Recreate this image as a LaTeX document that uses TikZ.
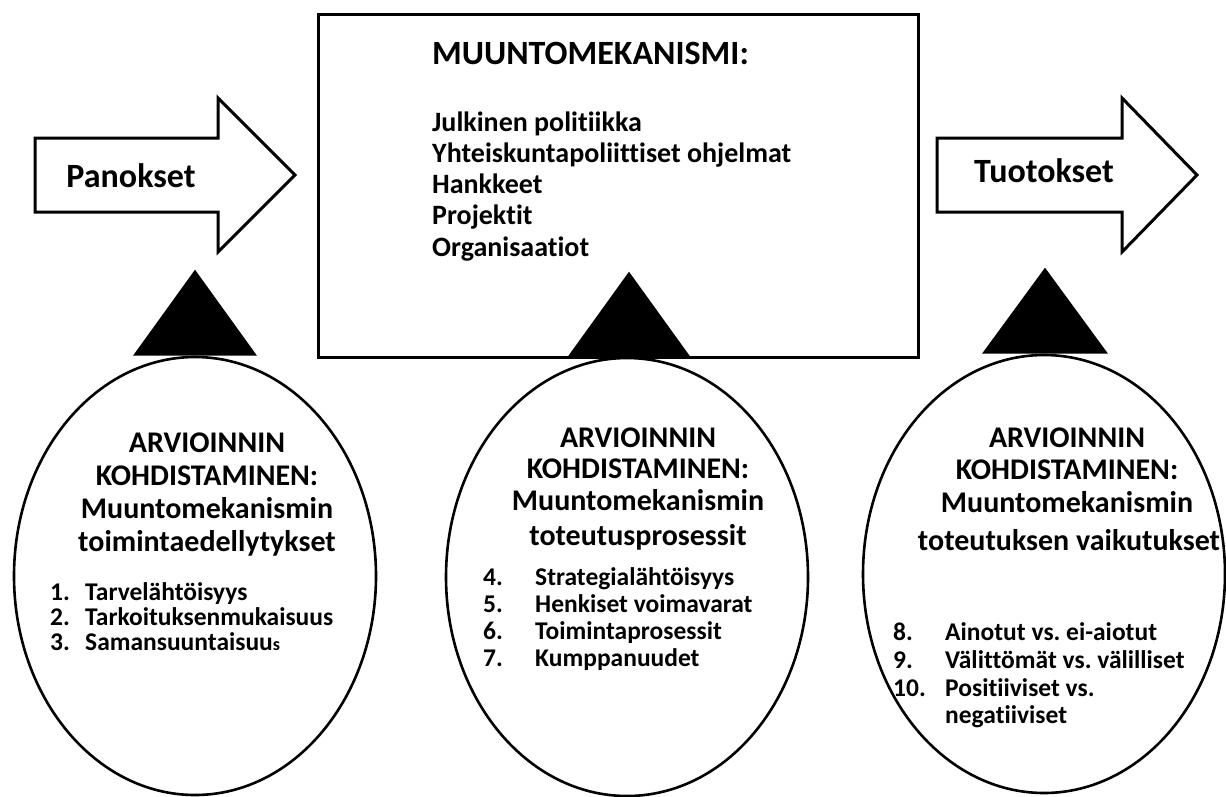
\documentclass[tikz,border=0pt]{standalone}
\usepackage{fontspec}
\setmainfont{Carlito}[Ligatures=NoCommon]
\usetikzlibrary{shapes.geometric}
\frenchspacing
\begin{document}
\begin{tikzpicture}[x=1pt,y=-1pt,
  outline/.style={draw=black,line width=3pt,fill=white,line join=miter},
  oval/.style={ellipse,draw=black,line width=2.6pt,fill=white,inner sep=0pt,
               minimum width=362pt,minimum height=438pt},
  pointer/.style={fill=black},
  flowlabel/.style={font=\bfseries\fontsize{34}{40}\selectfont,inner sep=0pt},
  mechtitle/.style={font=\bfseries\fontsize{34}{40}\selectfont,inner sep=0pt,anchor=base west},
  mechitem/.style={font=\bfseries\fontsize{28}{33}\selectfont,inner sep=0pt,anchor=base west},
  evalhead/.style={font=\bfseries\fontsize{30}{36}\selectfont,inner sep=0pt,anchor=base},
  evalitem/.style={font=\bfseries\fontsize{25.5}{30}\selectfont,inner sep=0pt,anchor=base west}]
\useasboundingbox (0,0) rectangle (1226,796);

% flow arrows
\draw[outline] (35,138) -- (218,138) -- (218,98) -- (295,175) -- (218,252)
  -- (218,212) -- (35,212) -- cycle;
\node[flowlabel] (inputs) at (131,176) {Panokset};
\draw[outline] (937,138) -- (1122,138) -- (1122,98) -- (1197,175) -- (1122,252)
  -- (1122,212) -- (937,212) -- cycle;
\node[flowlabel] (outputs) at (1044,171) {Tuotokset};

% transformation mechanism box
\node[outline,minimum width=600pt,minimum height=343pt,inner sep=0pt] (mech) at (618,185.5) {};
\node[mechtitle] (mechhead) at (432,64) {MUUNTOMEKANISMI:};
\node[mechitem] (m1) at (432,131) {Julkinen politiikka};
\node[mechitem] (m2) at (432,162) {Yhteiskuntapoliittiset ohjelmat};
\node[mechitem] (m3) at (432,193) {Hankkeet};
\node[mechitem] (m4) at (432,224) {Projektit};
\node[mechitem] (m5) at (432,256) {Organisaatiot};

% evaluation focus ovals
\node[oval] (evalA) at (195,576) {};
\node[oval] (evalB) at (627,577) {};
\node[oval] (evalC) at (1044,574) {};

% pointers from the ovals up to the flow
\fill[pointer] (evalA.north) ++(-62,0) -- ++(124,0) -- ++(-62,-86) -- cycle;
\fill[pointer] (evalB.north) ++(-60,1) -- ++(124,0) -- ++(-62,-86) -- cycle;
\fill[pointer] (evalC.north) ++(-62,0) -- ++(126,0) -- ++(-63,-86) -- cycle;

% oval A
\node[evalhead] (a1) at (207,452) {ARVIOINNIN};
\node[evalhead] (a2) at (207,485) {KOHDISTAMINEN:};
\node[evalhead] (a3) at (207,518) {Muuntomekanismin};
\node[evalhead] (a4) at (207,551) {toimintaedellytykset};
\node[evalitem] (a5) at (50,600) {1.};
\node[evalitem] (a5t) at (85,600) {Tarvelähtöisyys};
\node[evalitem] (a6) at (50,625) {2.};
\node[evalitem] (a6t) at (85,625) {Tarkoituksenmukaisuus};
\node[evalitem] (a7) at (50,650) {3.};
\node[evalitem] (a7t) at (85,650) {Samansuuntaisuu{\fontsize{18}{22}\selectfont s}};

% oval B
\node[evalhead] (b1) at (638,447) {ARVIOINNIN};
\node[evalhead] (b2) at (638,478) {KOHDISTAMINEN:};
\node[evalhead] (b3) at (638,510) {Muuntomekanismin};
\node[evalhead] (b4) at (638,545) {toteutusprosessit};
\node[evalitem] (b5) at (483,585) {4.};
\node[evalitem] (b5t) at (535,585) {Strategialähtöisyys};
\node[evalitem] (b6) at (483,612) {5.};
\node[evalitem] (b6t) at (535,612) {Henkiset voimavarat};
\node[evalitem] (b7) at (483,639) {6.};
\node[evalitem] (b7t) at (535,639) {Toimintaprosessit};
\node[evalitem] (b8) at (483,666) {7.};
\node[evalitem] (b8t) at (535,666) {Kumppanuudet};

% oval C
\node[evalhead] (c1) at (1067,447) {ARVIOINNIN};
\node[evalhead] (c2) at (1067,479) {KOHDISTAMINEN:};
\node[evalhead] (c3) at (1067,512) {Muuntomekanismin};
\node[evalhead] (c4) at (1069,550) {toteutuksen vaikutukset};
\node[evalitem] (c5) at (893,640) {8.};
\node[evalitem] (c5t) at (945,640) {Ainotut vs. ei-aiotut};
\node[evalitem] (c6) at (893,668) {9.};
\node[evalitem] (c6t) at (945,668) {Välittömät vs. välilliset};
\node[evalitem] (c7) at (893,696) {10.};
\node[evalitem] (c7t) at (945,696) {Positiiviset vs.};
\node[evalitem] (c8t) at (945,723) {negatiiviset};
\end{tikzpicture}
\end{document}
